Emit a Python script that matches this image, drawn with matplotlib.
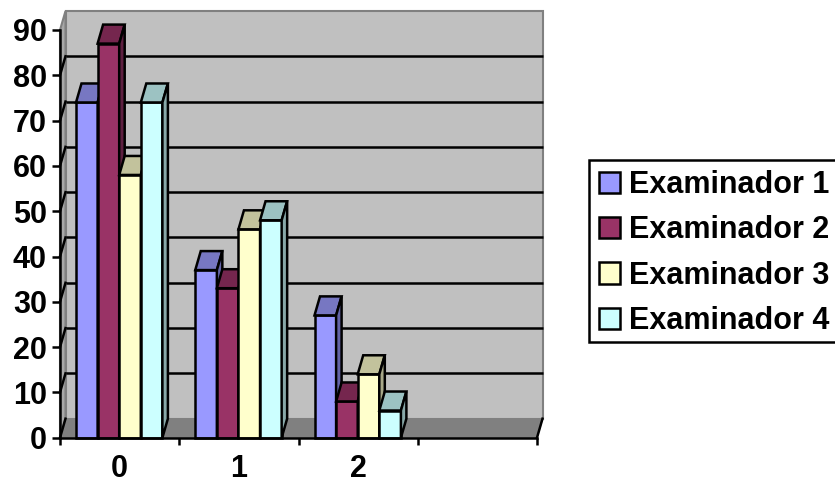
import matplotlib
matplotlib.use('Agg')
import matplotlib.pyplot as plt
from matplotlib.patches import Polygon, Patch, Rectangle

categories = ['0', '1', '2']
series_names = ['Examinador 1', 'Examinador 2', 'Examinador 3', 'Examinador 4']
exam1 = [74, 37, 27]
exam2 = [87, 33, 8]
exam3 = [58, 46, 14]
exam4 = [74, 48, 6]
series = [exam1, exam2, exam3, exam4]
yticks = list(range(0, 100, 10))

front_colors = ['#9999FF', '#993366', '#FFFFCC', '#CCFFFF']
top_colors = ['#7777C2', '#75264E', '#C2C29C', '#9CC2C2']
side_colors = ['#6464A8', '#5E1F40', '#A8A888', '#88A8A8']

W, H = 835, 484
plt.rcParams['font.family'] = ['Liberation Sans', 'DejaVu Sans']
plt.rcParams['font.weight'] = 'bold'

fig = plt.figure(figsize=(W / 100, H / 100), dpi=100, facecolor='white')
ax = fig.add_axes([60 / W, 1 - 437.7 / H, 477 / W, 407.7 / H])
ax.set_xlim(0, 4)
ax.set_ylim(0, 90)
ax.patch.set_visible(False)

# 3d depth, in data units
dx = 5.5 / 119.25
dy = 19 / 4.53
lw = 1.8
xmax = 4
ymax = 90

# walls and floor
ax.add_patch(Polygon([(dx, dy), (xmax + dx, dy), (xmax + dx, ymax + dy), (dx, ymax + dy)],
                     fc='#C0C0C0', ec='#808080', lw=1.5, zorder=1, clip_on=False))
ax.add_patch(Polygon([(0, 0), (dx, dy), (dx, ymax + dy), (0, ymax)],
                     fc='#A8A8A8', ec='#808080', lw=1.5, zorder=1, clip_on=False))
ax.add_patch(Polygon([(0, 0), (xmax, 0), (xmax + dx, dy), (dx, dy)],
                     fc='#808080', ec='#808080', lw=1, zorder=1, clip_on=False))

for v in yticks[1:-1]:
    ax.plot([dx, xmax + dx], [v + dy, v + dy], color='black', lw=lw, zorder=2,
            clip_on=False, solid_capstyle='butt')
    ax.plot([0, dx], [v, v + dy], color='black', lw=lw, zorder=2, clip_on=False)
ax.plot([0, dx], [0, dy], color='black', lw=lw, zorder=2, clip_on=False)
ax.plot([xmax, xmax + dx], [0, dy], color='black', lw=lw, zorder=2, clip_on=False)

# bars
bar_w = 21.6 / 119.25
offset = 16 / 119.25
z = 3
for c in range(len(categories)):
    for s, vals in enumerate(series):
        x0 = c + offset + s * bar_w
        x1 = x0 + bar_w
        v = vals[c]
        ax.bar(x0, v, width=bar_w, align='edge', color=front_colors[s], edgecolor='black',
               linewidth=lw, zorder=z, clip_on=False)
        ax.add_patch(Polygon([(x0, v), (x1, v), (x1 + dx, v + dy), (x0 + dx, v + dy)],
                             fc=top_colors[s], ec='black', lw=lw, zorder=z, clip_on=False))
        ax.add_patch(Polygon([(x1, 0), (x1 + dx, dy), (x1 + dx, v + dy), (x1, v)],
                             fc=side_colors[s], ec='black', lw=lw, zorder=z, clip_on=False))
        z += 1

# axes
for name in ['top', 'right']:
    ax.spines[name].set_visible(False)
for name in ['left', 'bottom']:
    ax.spines[name].set_linewidth(lw)
    ax.spines[name].set_zorder(50)
ax.set_yticks(yticks)
ax.set_xticks(range(5))
ax.set_xticklabels([])
ax.set_xticks([i + 0.5 for i in range(len(categories))], minor=True)
ax.set_xticklabels(categories, minor=True)
ax.tick_params(axis='y', length=5.5, width=lw, labelsize=22, pad=4)
ax.tick_params(axis='x', which='major', length=5, width=lw)
ax.tick_params(axis='x', which='minor', length=0, labelsize=22, pad=12)

# legend box runs off the right edge, as in the original
fig.add_artist(Rectangle((589 / W, 1 - 341.7 / H), 260 / W, 181.7 / H, transform=fig.transFigure,
                         fc='white', ec='black', lw=lw))
handles = [Patch(fc=c, ec='black', lw=lw) for c in front_colors]
leg = fig.legend(handles, series_names, loc='upper left', bbox_to_anchor=(589 / W, 1 - 160 / H),
                 borderaxespad=0, fontsize=22, frameon=False, handlelength=0.69, handleheight=0.69,
                 handletextpad=0.29, labelspacing=0.5, borderpad=0.33)

fig.savefig('out.png', dpi=100)
